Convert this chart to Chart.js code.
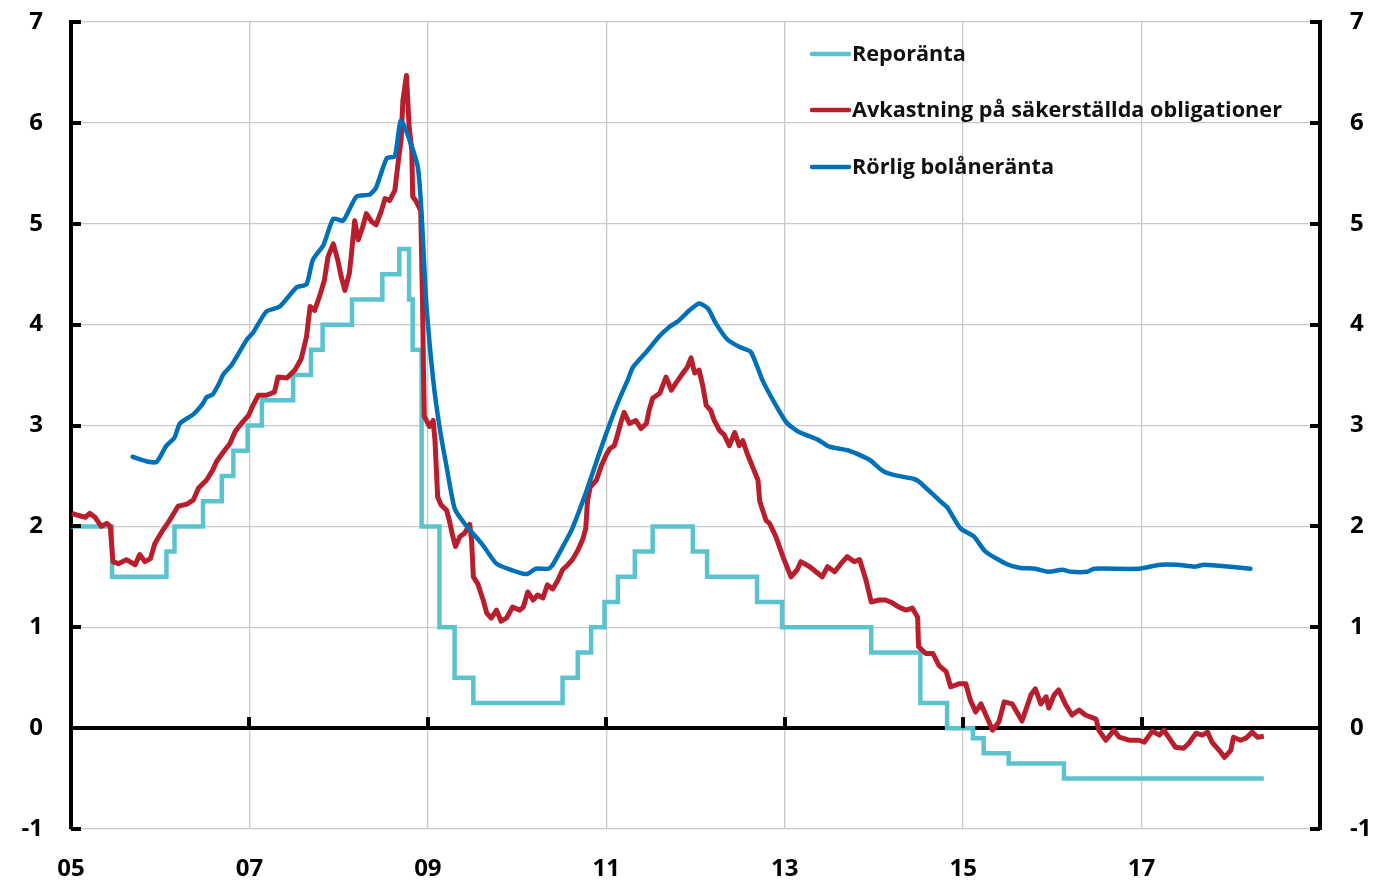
<!DOCTYPE html>
<html>
<head>
<meta charset="utf-8">
<script src="https://cdn.jsdelivr.net/npm/chart.js@4.4.1/dist/chart.umd.min.js"></script>
<style>
html,body{margin:0;padding:0;background:#fff;}
#wrap{width:1374px;height:881px;}
</style>
</head>
<body>
<div id="wrap"><canvas id="c" width="1374" height="881"></canvas></div>
<script>
// ---- Data (years as decimals) ----
const seriesNames = ['Reporänta', 'Avkastning på säkerställda obligationer', 'Rörlig bolåneränta'];

const repoDates = [2005.00, 2005.46, 2006.07, 2006.16, 2006.48, 2006.69, 2006.82, 2006.98, 2007.14, 2007.49, 2007.69, 2007.82, 2008.15, 2008.49, 2008.68, 2008.79, 2008.83, 2008.93, 2009.13, 2009.30, 2009.51, 2010.51, 2010.68, 2010.83, 2010.98, 2011.13, 2011.32, 2011.52, 2011.97, 2012.13, 2012.69, 2012.97, 2013.97, 2014.52, 2014.82, 2015.11, 2015.23, 2015.51, 2016.13, 2018.37];
const repoValues = [2.00, 1.50, 1.75, 2.00, 2.25, 2.50, 2.75, 3.00, 3.25, 3.50, 3.75, 4.00, 4.25, 4.50, 4.75, 4.25, 3.75, 2.00, 1.00, 0.50, 0.25, 0.50, 0.75, 1.00, 1.25, 1.50, 1.75, 2.00, 1.75, 1.50, 1.25, 1.00, 0.75, 0.25, 0.00, -0.10, -0.25, -0.35, -0.50, -0.50];

const bondDates = [2005.01, 2005.08, 2005.16, 2005.21, 2005.27, 2005.34, 2005.40, 2005.44, 2005.47, 2005.53, 2005.62, 2005.72, 2005.77, 2005.83, 2005.89, 2005.94, 2006.02, 2006.09, 2006.16, 2006.20, 2006.30, 2006.37, 2006.43, 2006.52, 2006.59, 2006.63, 2006.71, 2006.78, 2006.84, 2006.91, 2006.99, 2007.04, 2007.10, 2007.19, 2007.28, 2007.32, 2007.42, 2007.51, 2007.58, 2007.64, 2007.68, 2007.73, 2007.79, 2007.84, 2007.88, 2007.94, 2007.99, 2008.03, 2008.07, 2008.12, 2008.14, 2008.18, 2008.22, 2008.27, 2008.31, 2008.37, 2008.42, 2008.48, 2008.52, 2008.57, 2008.63, 2008.67, 2008.70, 2008.72, 2008.76, 2008.79, 2008.82, 2008.83, 2008.87, 2008.92, 2008.94, 2008.95, 2008.96, 2009.02, 2009.06, 2009.08, 2009.11, 2009.15, 2009.21, 2009.24, 2009.28, 2009.31, 2009.36, 2009.41, 2009.47, 2009.49, 2009.51, 2009.56, 2009.62, 2009.66, 2009.71, 2009.77, 2009.82, 2009.88, 2009.95, 2010.03, 2010.07, 2010.12, 2010.18, 2010.23, 2010.29, 2010.34, 2010.40, 2010.46, 2010.51, 2010.57, 2010.62, 2010.68, 2010.74, 2010.77, 2010.79, 2010.82, 2010.89, 2010.94, 2011.00, 2011.04, 2011.09, 2011.13, 2011.17, 2011.20, 2011.26, 2011.33, 2011.39, 2011.45, 2011.48, 2011.52, 2011.60, 2011.67, 2011.73, 2011.78, 2011.86, 2011.91, 2011.95, 2011.99, 2012.04, 2012.08, 2012.12, 2012.17, 2012.21, 2012.27, 2012.32, 2012.38, 2012.44, 2012.49, 2012.53, 2012.58, 2012.64, 2012.70, 2012.72, 2012.79, 2012.83, 2012.90, 2012.98, 2013.07, 2013.14, 2013.18, 2013.28, 2013.35, 2013.42, 2013.48, 2013.56, 2013.63, 2013.70, 2013.78, 2013.84, 2013.91, 2013.97, 2014.06, 2014.13, 2014.21, 2014.28, 2014.36, 2014.43, 2014.49, 2014.50, 2014.58, 2014.66, 2014.73, 2014.81, 2014.86, 2014.96, 2015.03, 2015.08, 2015.14, 2015.20, 2015.27, 2015.33, 2015.40, 2015.46, 2015.55, 2015.66, 2015.76, 2015.81, 2015.87, 2015.93, 2015.96, 2016.02, 2016.07, 2016.15, 2016.22, 2016.30, 2016.37, 2016.49, 2016.52, 2016.60, 2016.69, 2016.75, 2016.86, 2016.97, 2017.03, 2017.12, 2017.20, 2017.25, 2017.31, 2017.38, 2017.47, 2017.53, 2017.61, 2017.68, 2017.74, 2017.79, 2017.87, 2017.93, 2018.00, 2018.03, 2018.11, 2018.17, 2018.24, 2018.30, 2018.37];
const bondValues = [2.13, 2.11, 2.09, 2.13, 2.09, 2.00, 2.03, 2.00, 1.65, 1.63, 1.67, 1.62, 1.72, 1.65, 1.68, 1.83, 1.95, 2.04, 2.14, 2.20, 2.22, 2.26, 2.38, 2.46, 2.56, 2.64, 2.74, 2.82, 2.94, 3.02, 3.10, 3.20, 3.30, 3.30, 3.33, 3.48, 3.47, 3.55, 3.66, 3.88, 4.18, 4.14, 4.29, 4.44, 4.67, 4.80, 4.64, 4.47, 4.34, 4.51, 4.67, 5.03, 4.84, 4.97, 5.10, 5.02, 4.99, 5.13, 5.25, 5.23, 5.33, 5.63, 5.83, 6.22, 6.47, 5.96, 5.73, 5.27, 5.22, 5.13, 4.24, 3.60, 3.09, 2.99, 3.05, 2.85, 2.29, 2.21, 2.16, 2.06, 1.90, 1.80, 1.90, 1.93, 2.02, 1.86, 1.50, 1.43, 1.27, 1.14, 1.09, 1.17, 1.06, 1.09, 1.20, 1.17, 1.20, 1.35, 1.27, 1.32, 1.29, 1.42, 1.38, 1.47, 1.57, 1.62, 1.67, 1.76, 1.88, 1.98, 2.26, 2.39, 2.46, 2.59, 2.71, 2.77, 2.80, 2.92, 3.05, 3.13, 3.02, 3.05, 2.97, 3.02, 3.15, 3.27, 3.32, 3.48, 3.35, 3.42, 3.52, 3.58, 3.67, 3.52, 3.55, 3.40, 3.20, 3.15, 3.05, 2.95, 2.91, 2.80, 2.93, 2.80, 2.85, 2.72, 2.59, 2.46, 2.25, 2.06, 2.03, 1.90, 1.70, 1.50, 1.57, 1.65, 1.60, 1.55, 1.50, 1.60, 1.55, 1.63, 1.70, 1.65, 1.67, 1.47, 1.25, 1.27, 1.27, 1.24, 1.20, 1.17, 1.19, 1.10, 0.81, 0.74, 0.74, 0.62, 0.56, 0.41, 0.44, 0.44, 0.28, 0.16, 0.24, 0.10, -0.02, 0.06, 0.26, 0.24, 0.07, 0.33, 0.39, 0.24, 0.31, 0.20, 0.33, 0.38, 0.23, 0.13, 0.18, 0.13, 0.09, -0.02, -0.12, -0.02, -0.09, -0.12, -0.12, -0.14, -0.03, -0.07, -0.02, -0.10, -0.19, -0.20, -0.15, -0.05, -0.07, -0.04, -0.14, -0.22, -0.29, -0.22, -0.09, -0.12, -0.10, -0.04, -0.09, -0.08];

const mortDates = [2005.69, 2005.87, 2005.96, 2006.07, 2006.16, 2006.22, 2006.37, 2006.48, 2006.52, 2006.59, 2006.65, 2006.71, 2006.80, 2006.97, 2007.04, 2007.19, 2007.34, 2007.53, 2007.64, 2007.71, 2007.83, 2007.94, 2008.05, 2008.20, 2008.35, 2008.42, 2008.54, 2008.63, 2008.70, 2008.89, 2008.98, 2009.06, 2009.13, 2009.21, 2009.30, 2009.41, 2009.62, 2009.77, 2010.03, 2010.12, 2010.21, 2010.35, 2010.40, 2010.55, 2010.62, 2010.77, 2010.92, 2011.04, 2011.15, 2011.24, 2011.30, 2011.45, 2011.60, 2011.71, 2011.80, 2011.93, 2012.04, 2012.14, 2012.23, 2012.36, 2012.49, 2012.62, 2012.75, 2012.87, 2013.02, 2013.15, 2013.37, 2013.50, 2013.72, 2013.95, 2014.10, 2014.22, 2014.45, 2014.51, 2014.73, 2014.82, 2014.97, 2015.12, 2015.25, 2015.48, 2015.63, 2015.81, 2015.96, 2016.11, 2016.21, 2016.39, 2016.47, 2016.97, 2017.21, 2017.40, 2017.59, 2017.70, 2018.00, 2018.22];
const mortValues = [2.69, 2.64, 2.64, 2.80, 2.88, 3.02, 3.11, 3.22, 3.28, 3.31, 3.40, 3.51, 3.60, 3.85, 3.92, 4.13, 4.18, 4.37, 4.40, 4.64, 4.79, 5.05, 5.03, 5.27, 5.29, 5.36, 5.65, 5.67, 6.02, 5.55, 4.24, 3.45, 2.99, 2.59, 2.18, 2.03, 1.81, 1.63, 1.54, 1.53, 1.58, 1.58, 1.62, 1.86, 1.98, 2.33, 2.72, 3.02, 3.27, 3.45, 3.58, 3.73, 3.89, 3.98, 4.03, 4.14, 4.21, 4.16, 4.01, 3.85, 3.78, 3.73, 3.45, 3.25, 3.03, 2.94, 2.86, 2.79, 2.75, 2.66, 2.55, 2.51, 2.47, 2.44, 2.26, 2.19, 1.98, 1.90, 1.75, 1.63, 1.59, 1.58, 1.55, 1.57, 1.55, 1.55, 1.58, 1.58, 1.62, 1.62, 1.60, 1.62, 1.60, 1.58];

const xMin = 2005, xMax = 2019, xStep = 2;
const yMin = -1, yMax = 7, yStep = 1;

function pts(xs, ys){ return xs.map((x,i)=>({x:x, y:ys[i]})); }

const FONT = '"Open Sans", Lato, sans-serif';
const COLORS = ['#5bc3d0', '#b81e2c', '#0070b8'];

// Inner tick marks + legend plugin
const decorPlugin = {
  id: 'decor',
  afterDatasetsDraw(chart){
    const ctx = chart.ctx;
    const ca = chart.chartArea;
    const ys = chart.scales.y, xs = chart.scales.x;
    ctx.save();
    ctx.fillStyle = '#000';
    for (let v = yMin; v <= yMax; v += yStep){
      const py = Math.round(ys.getPixelForValue(v));
      ctx.fillRect(ca.left, py - 2, 10, 4);
      ctx.fillRect(ca.right - 10, py - 2, 10, 4);
    }
    const zy = ys.getPixelForValue(0);
    for (let v = xMin + xStep; v < xMax; v += xStep){
      const px = Math.round(xs.getPixelForValue(v));
      ctx.fillRect(px - 2, zy - 11, 4, 11);
    }
    // legend: fit the longest label to the reference width
    ctx.font = 'bold 20px ' + FONT;
    const longest = Math.max(...chart.data.datasets.map(d => ctx.measureText(d.label).width));
    const size = 20 * 430 / longest;
    ctx.font = 'bold ' + size.toFixed(2) + 'px ' + FONT;
    const rows = [54, 110, 167];
    ctx.textBaseline = 'middle';
    ctx.textAlign = 'left';
    chart.data.datasets.forEach((ds, i) => {
      const y = rows[i];
      ctx.strokeStyle = ds.borderColor;
      ctx.lineWidth = 4.5;
      ctx.lineCap = 'round';
      ctx.beginPath();
      ctx.moveTo(812, y);
      ctx.lineTo(849, y);
      ctx.stroke();
      ctx.fillStyle = '#111';
      ctx.fillText(ds.label, 852, y + 1);
    });
    ctx.restore();
  }
};

function build(){
  new Chart(document.getElementById('c'), {
    type: 'line',
    data: {
      datasets: [
        { label: seriesNames[0], data: pts(repoDates, repoValues), borderColor: COLORS[0], borderWidth: 4.5, stepped: 'before', pointRadius: 0, fill: false, order: 3 },
        { label: seriesNames[1], data: pts(bondDates, bondValues), borderColor: COLORS[1], borderWidth: 5, pointRadius: 0, tension: 0, fill: false, order: 2, borderJoinStyle: 'round' },
        { label: seriesNames[2], data: pts(mortDates, mortValues), borderColor: COLORS[2], borderWidth: 4.5, pointRadius: 0, tension: 0.2, fill: false, order: 1, borderJoinStyle: 'round', borderCapStyle: 'round' }
      ]
    },
    options: {
      responsive: false,
      animation: false,
      events: [],
      layout: { autoPadding: false, padding: { top: 22, left: 0, right: 0, bottom: 0 } },
      plugins: { legend: { display: false }, tooltip: { enabled: false }, title: { display: false } },
      scales: {
        x: {
          type: 'linear', min: xMin, max: xMax,
          ticks: {
            stepSize: xStep, padding: 26, maxRotation: 0, autoSkip: false,
            color: '#000', font: { family: FONT, size: 24, weight: 'bold' },
            callback: v => (v >= xMax ? '' : String(v % 100).padStart(2, '0'))
          },
          grid: {
            drawTicks: false,
            color: c => (c.tick && (c.tick.value === xMin || c.tick.value === xMax)) ? 'rgba(0,0,0,0)' : '#c9c9c9',
            lineWidth: 1.3
          },
          border: { display: false },
          afterFit: s => { s.height = 52; s.paddingLeft = 0; s.paddingRight = 0; }
        },
        y: {
          type: 'linear', position: 'left', min: yMin, max: yMax,
          ticks: { stepSize: yStep, padding: 28, color: '#000', font: { family: FONT, size: 24, weight: 'bold' } },
          grid: {
            drawTicks: false,
            color: c => (c.tick && c.tick.value === 0) ? '#000' : '#c9c9c9',
            lineWidth: c => (c.tick && c.tick.value === 0) ? 4 : 1.3
          },
          border: { display: true, color: '#000', width: 4 },
          afterFit: s => { s.width = 71; s.paddingTop = 0; s.paddingBottom = 0; }
        },
        y2: {
          type: 'linear', position: 'right', min: yMin, max: yMax,
          ticks: { stepSize: yStep, padding: 30, color: '#000', font: { family: FONT, size: 24, weight: 'bold' } },
          grid: { display: false, drawTicks: false },
          border: { display: true, color: '#000', width: 4 },
          afterFit: s => { s.width = 54; s.paddingTop = 0; s.paddingBottom = 0; }
        }
      }
    },
    plugins: [decorPlugin]
  });
}

if (document.fonts && document.fonts.load) {
  Promise.all([document.fonts.load('bold 24px "Open Sans"'), document.fonts.load('bold 20px "Open Sans"')]).then(build, build);
} else { build(); }
</script>
</body>
</html>
